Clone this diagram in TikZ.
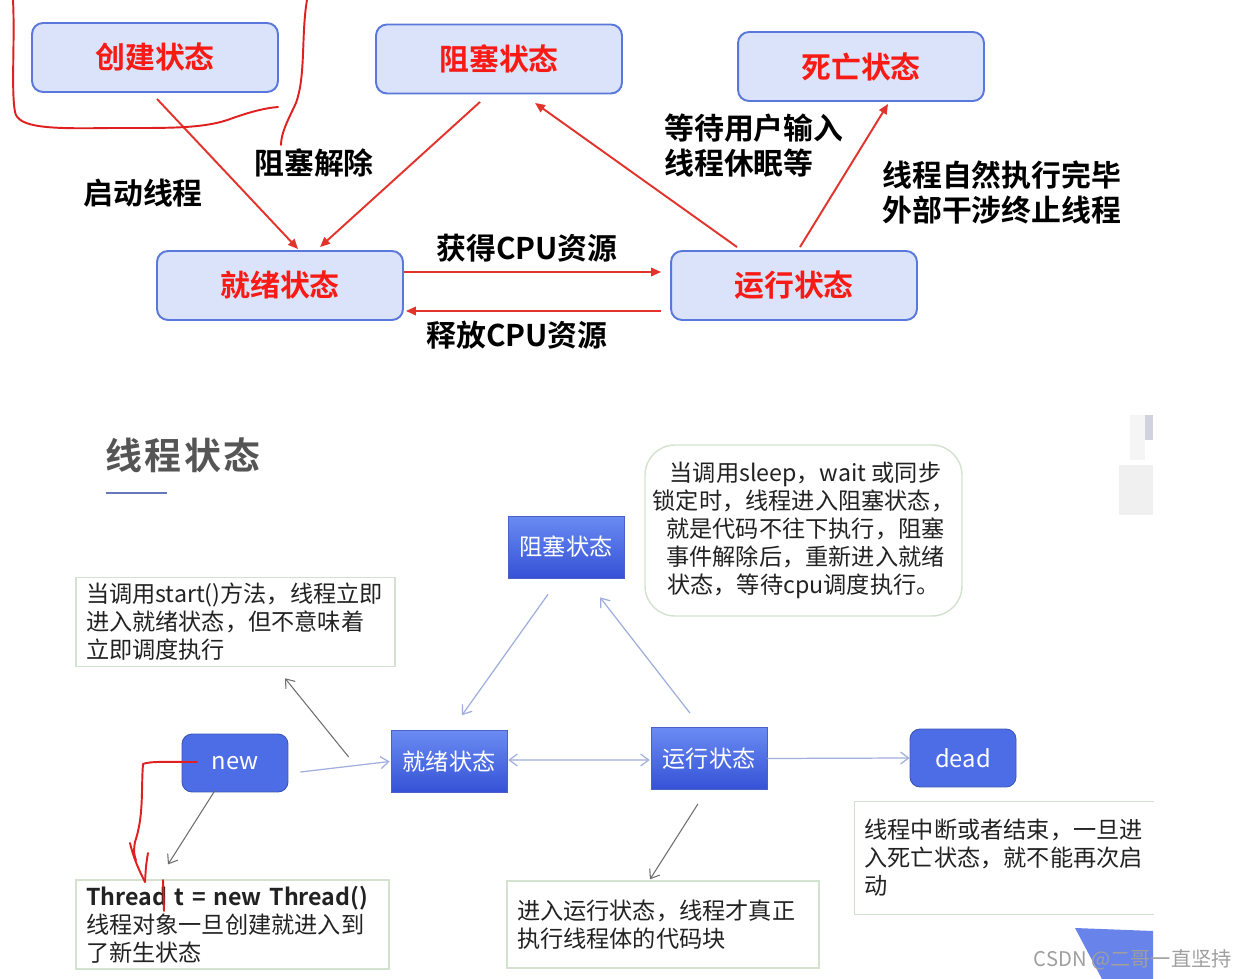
\documentclass[tikz,border=0pt]{standalone}
\usepackage{fontspec}
\setmainfont{Noto Sans CJK SC}[BoldFont={Noto Sans CJK SC Bold}]
\usetikzlibrary{arrows.meta,calc}
\definecolor{topfill}{HTML}{DAE3F9}
\definecolor{topborder}{HTML}{5A78DB}
\definecolor{topred}{HTML}{F81A14}
\definecolor{arrred}{HTML}{E2342C}
\definecolor{handred}{HTML}{E02020}
\definecolor{gtop}{HTML}{6A8BF2}
\definecolor{gbot}{HTML}{3552D6}
\definecolor{gborder}{HTML}{4A62C8}
\definecolor{rfill}{HTML}{4D6DE6}
\definecolor{rborder}{HTML}{3B55B5}
\definecolor{lightarr}{HTML}{9FAEDC}
\definecolor{grayarr}{HTML}{6E6E6E}
\definecolor{descborder}{HTML}{D3E2CE}
\definecolor{titlegray}{HTML}{555555}
\definecolor{uline}{HTML}{6677BB}
\definecolor{txt}{HTML}{222222}
\begin{document}
\begin{tikzpicture}[x=0.02cm,y=-0.02cm,
  topbox/.style={draw=topborder, line width=1.1pt, fill=topfill, rounded corners=0.22cm,
    minimum width=4.92cm, minimum height=1.38cm, text=topred,
    font=\bfseries\fontsize{17}{20}\selectfont},
  lbl/.style={text=black, font=\bfseries\fontsize{17}{20}\selectfont, inner sep=0pt},
  redarr/.style={draw=arrred, line width=1.1pt, -{Triangle[length=0.2cm,width=0.17cm]}},
  handpen/.style={draw=handred, line width=1.1pt, line cap=round, line join=round},
  gbox/.style={draw=gborder, line width=0.4pt, top color=gtop, bottom color=gbot,
    minimum width=2.32cm, minimum height=1.24cm, text=white,
    font=\fontsize{13.2}{15}\selectfont},
  rbox/.style={draw=rborder, line width=0.5pt, fill=rfill, rounded corners=0.2cm,
    minimum width=2.12cm, minimum height=1.16cm, text=white,
    font=\fontsize{13.5}{15}\selectfont},
  desc/.style={draw=descborder, line width=0.8pt, fill=white, text=txt, align=left,
    inner xsep=0.18cm, font=\fontsize{13.2}{15.9}\selectfont},
  larr/.style={draw=lightarr, line width=0.7pt, -{Straight Barb[length=0.16cm,width=0.24cm]}},
  garr/.style={draw=grayarr, line width=0.6pt, -{Straight Barb[length=0.16cm,width=0.24cm]}}
]
\useasboundingbox (0,0) rectangle (1247,979);
\fill[white] (0,0) rectangle (1247,979);

% ---------- top diagram ----------
\node[topbox] (create) at (155,57.5) {创建状态};
\node[topbox] (block) at (499,59) {阻塞状态};
\node[topbox] (dead) at (861,66.5) {死亡状态};
\node[topbox] (ready) at (280,285.5) {就绪状态};
\node[topbox] (run) at (794,285.5) {运行状态};

\draw[redarr] ($(create.south)+(2,6)$) -- ($(ready.north)+(18,-1)$);
\draw[redarr] ($(block.south)+(-19,7.5)$) -- ($(ready.north)+(40,-3)$);
\draw[redarr] ($(run.north)+(-57,-3)$) -- ($(block.south)+(36,8.5)$);
\draw[redarr] ($(run.north)+(6,-3)$) -- ($(dead.south)+(27,2)$);
\draw[redarr] ($(ready.east)+(0,-13.5)$) -- ($(run.west)+(-9,-13.5)$);
\draw[redarr] ($(run.west)+(-9,25.5)$) -- ($(ready.east)+(2,25.5)$);

\node[lbl] (l1) at (143,193) {启动线程};
\node[lbl] (l2) at (314,163) {阻塞解除};
\node[lbl] (l3) at (527,248) {获得CPU资源};
\node[lbl] (l4) at (517,335) {释放CPU资源};
\node[lbl, align=left, anchor=west] (l5) at (664,145.5) {等待用户输入\\线程休眠等};
\node[lbl, align=left, anchor=west] (l6) at (882,192.5) {线程自然执行完毕\\外部干涉终止线程};

% hand-drawn red marks (top)
\draw[handpen] (13,0) .. controls (15,40) and (11,90) .. (15,112)
  .. controls (18,128) and (50,129) .. (110,128)
  .. controls (170,128) and (205,129) .. (233,118)
  .. controls (250,112) and (265,108) .. (278,107);
\draw[handpen] (307,0) .. controls (301,35) and (306,75) .. (296,103)
  .. controls (288,120) and (281,133) .. (281,145);

% ---------- bottom diagram ----------
\node[font=\bfseries\fontsize{21}{24}\selectfont, text=titlegray] (title) at (183,455)
  {线\hspace{1.5pt}程\hspace{1.5pt}状\hspace{1.5pt}态};
\draw[draw=uline, line width=1.6pt] (106,493) -- (167,493);

\node[gbox] (bblock) at (566,547) {阻塞状态};
\node[gbox] (bready) at (449,761.5) {就绪状态};
\node[gbox] (brun) at (709,758.5) {运行状态};
\node[rbox] (bnew) at (235,763) {new};
\node[rbox] (bdead) at (963,758) {dead};

\node[desc, minimum width=6.38cm, minimum height=1.76cm, text width=5.98cm] (dstart) at (235.5,622)
  {当调用start()方法，线程立即\\进入就绪状态，但不意味着\\立即调度执行};
\node[draw=descborder, line width=0.8pt, fill=white, rounded corners=0.6cm, text=txt,
  minimum width=6.34cm, minimum height=3.42cm, align=center,
  font=\fontsize{13.2}{15.9}\selectfont] (dblock) at (803.5,530.5)
  {\,当调用sleep，wait 或同步\\锁定时，线程进入阻塞状态，\\\,就是代码不往下执行，阻塞\\\,事件解除后，重新进入就绪\\状态，等待cpu调度执行。};
\node[desc, minimum width=6.26cm, minimum height=1.74cm, text width=5.86cm] (dthread) at (232.5,924.5)
  {\textbf{Thread t = new Thread()}\\线程对象一旦创建就进入到\\了新生状态};
\node[desc, minimum width=6.24cm, minimum height=1.74cm, text width=5.84cm] (drun) at (663,924.5)
  {进入运行状态，线程才真正\\执行线程体的代码块};
\node[desc, draw=none, minimum width=5.96cm, minimum height=2.24cm, text width=5.58cm] (ddead) at (1004,858)
  {线程中断或者结束，一旦进\\入死亡状态，就不能再次启\\动};
\draw[draw=descborder, line width=0.8pt] (ddead.north east) -- (ddead.north west) -- (ddead.south west) -- (ddead.south east);

\draw[larr] ($(bblock.south)+(-18,16)$) -- ($(bready.north)+(13,-15)$);
\draw[larr] ($(brun.north)+(-19,-14)$) -- ($(bblock.south)+(34,19)$);
\draw[larr] ($(bnew.east)+(12,9)$) -- ($(bready.west)+(-1,0)$);
\draw[larr, {Straight Barb[length=0.16cm,width=0.24cm]}-{Straight Barb[length=0.16cm,width=0.24cm]}]
  ($(bready.east)+(1,-1.5)$) -- ($(brun.west)+(-1,1.5)$);
\draw[larr] (brun.east) -- (bdead.west);
\coordinate (gstart) at ($(bready.west)+(-42,-4.5)$);
\draw[garr] (gstart) -- ($(dstart.south)+(49.5,11)$);
\draw[garr] ($(bnew.south)+(-20,-2)$) -- ($(dthread.north)+(-64.5,-15)$);
\draw[garr] ($(brun.south)+(-11,14)$) -- ($(drun.north)+(-13,-1)$);

% hand-drawn red marks (bottom)
\draw[handpen] (197,762) .. controls (170,762) and (150,761) .. (143,764)
  .. controls (141,790) and (144,815) .. (135,842) .. controls (133,852) and (135,858) .. (136,860);
\draw[handpen] (130,843) .. controls (134,860) and (140,872) .. (145,882);
\draw[handpen] (148,853) .. controls (146,865) .. (145,882);
\draw[handpen] (163,880) -- (164,911);

% faint background remnants
\fill[gray!12] (1119,465) rectangle (1153,515);
\fill[gray!8] (1130,415) rectangle (1145,460);
\fill[blue!20!gray!30] (1145,415) rectangle (1153,440);
\fill[rfill!85] (1075,928) -- (1153,931) -- (1153,979) -- (1102,979) -- cycle;
\node[text=gray!75, font=\fontsize{11.5}{13}\selectfont, anchor=east, inner sep=0pt] (wm) at (1232,960)
  {CSDN @二哥一直坚持};
\end{tikzpicture}
\end{document}
